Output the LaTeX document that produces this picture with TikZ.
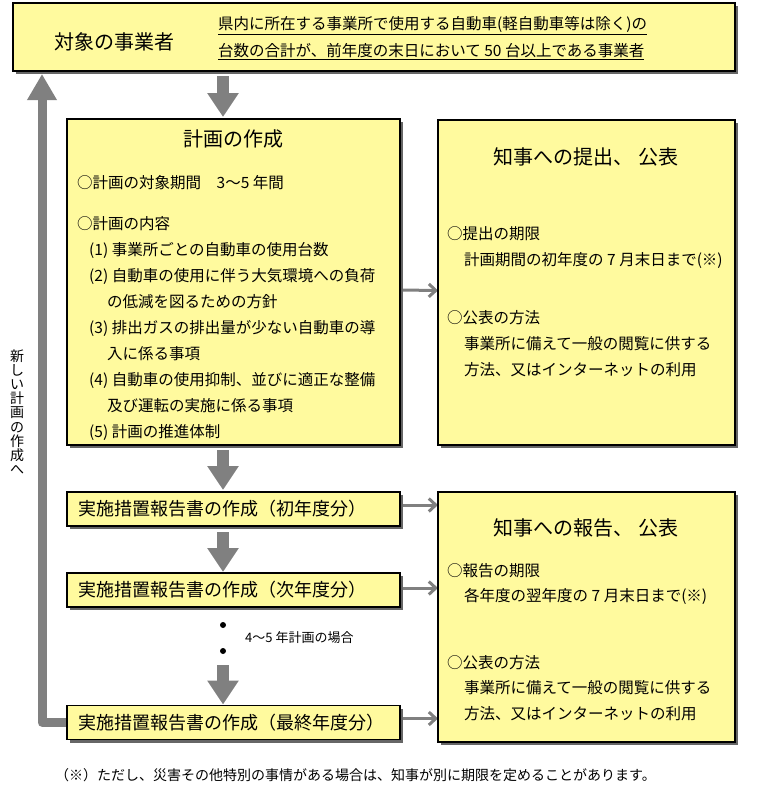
\documentclass[tikz,border=0pt]{standalone}
\usepackage{fontspec}
\setmainfont{Noto Sans CJK JP}
\usetikzlibrary{arrows.meta,shadows,backgrounds}
\definecolor{boxfill}{HTML}{FFFA9E}
\definecolor{arrowgray}{HTML}{808080}
\tikzset{
  box/.style={draw=black, line width=1.5pt, fill=boxfill, inner sep=0pt, outer sep=0pt,
    drop shadow={shadow xshift=3pt, shadow yshift=-3pt, fill=black!60, opacity=1}},
  repbox/.style={box, minimum height=34pt, text width=311pt, inner xsep=11pt, align=left,
    font=\fontsize{18}{22}\selectfont},
  title/.style={font=\fontsize{20}{24}\selectfont, inner sep=0pt},
  body/.style={font=\fontsize{15.5}{26}\selectfont, align=left, anchor=north west, inner sep=0pt},
  bigarrow/.style={draw=arrowgray, line width=12pt, -{Triangle[length=24pt, width=30pt]}},
  backarrow/.style={draw=arrowgray, line width=9pt, line join=round, line cap=round,
    -{Triangle[length=26pt, width=28pt]}},
  smallarrow/.style={draw=arrowgray, line width=3pt, -{Straight Barb[length=7pt, width=13pt]}}
}
\begin{document}
\begin{tikzpicture}[x=1pt, y=-1pt]
  \useasboundingbox (0,0) rectangle (767,800);
  \node[box, minimum width=722pt, minimum height=68pt] (top) at (374,37) {};
  \node[title] (toptitle) at (114,42) {対象の事業者};
  \node[body, font=\fontsize{15.5}{27}\selectfont] (topbody) at (218,16)
    {\underline{県内に所在する事業所で使用する自動車(軽自動車等は除く)の}\\
     \underline{台数の合計が、前年度の末日において 50 台以上である事業者}};

  \node[box, minimum width=333pt, minimum height=326pt] (plan) at (233.5,282) {};
  \node[title] (plantitle) at (233,139) {計画の作成};
  \node[body] (planbody) at (77,175)
    {○計画の対象期間　3～5 年間\\[15pt]
     ○計画の内容\\
     \hspace*{12pt}(1) 事業所ごとの自動車の使用台数\\
     \hspace*{12pt}(2) 自動車の使用に伴う大気環境への負荷\\
     \hspace*{30pt}の低減を図るための方針\\
     \hspace*{12pt}(3) 排出ガスの排出量が少ない自動車の導\\
     \hspace*{30pt}入に係る事項\\
     \hspace*{12pt}(4) 自動車の使用抑制、並びに適正な整備\\
     \hspace*{30pt}及び運転の実施に係る事項\\
     \hspace*{12pt}(5) 計画の推進体制};

  \node[box, minimum width=297pt, minimum height=325pt] (submit) at (586.5,282.5) {};
  \node[title] (submittitle) at (586,157) {知事への提出、 公表};
  \node[body] (submitbody) at (447,226)
    {○提出の期限\\
     \hspace*{17pt}計画期間の初年度の 7 月末日まで(※)\\[32pt]
     ○公表の方法\\
     \hspace*{17pt}事業所に備えて一般の閲覧に供する\\
     \hspace*{17pt}方法、又はインターネットの利用};

  \node[repbox] (rep1) at (233.5,509) {実施措置報告書の作成（初年度分）};
  \node[repbox] (rep2) at (233.5,590) {実施措置報告書の作成（次年度分）};
  \node[repbox] (rep3) at (233.5,722.5) {実施措置報告書の作成（最終年度分）};

  \node[box, minimum width=297pt, minimum height=250pt] (pub) at (586.5,617) {};
  \node[title] (pubtitle) at (586,528) {知事への報告、 公表};
  \node[body, font=\fontsize{15.5}{25.5}\selectfont] (pubbody) at (447,563)
    {○報告の期限\\
     \hspace*{17pt}各年度の翌年度の 7 月末日まで(※)\\[41pt]
     ○公表の方法\\
     \hspace*{17pt}事業所に備えて一般の閲覧に供する\\
     \hspace*{17pt}方法、又はインターネットの利用};

  \node[circle, fill=black, inner sep=0pt, minimum size=6pt] (dot1) at (223,625) {};
  \node[circle, fill=black, inner sep=0pt, minimum size=6pt] (dot2) at (223,651) {};
  \node[anchor=west, inner sep=0pt, font=\fontsize{13}{15}\selectfont] (case) at (245,638) {4～5 年計画の場合};

  \node[align=center, inner sep=0pt, font=\fontsize{14}{14.2}\selectfont] (newplan) at (17,412)
    {新\\し\\い\\計\\画\\の\\作\\成\\へ};
  \node[anchor=west, inner sep=0pt, font=\fontsize{14}{16}\selectfont] (note) at (55,775)
    {（※）ただし、災害その他特別の事情がある場合は、知事が別に期限を定めることがあります。};

  \coordinate (axis) at (223,0);
  \coordinate (ret) at (42,74);
  \begin{scope}[on background layer]
    \draw[bigarrow, shorten <=5pt, shorten >=2pt] (axis |- top.south) -- (axis |- plan.north);
    \draw[bigarrow, shorten <=5pt, shorten >=2pt] (axis |- plan.south) -- (axis |- rep1.north);
    \draw[bigarrow, shorten <=6pt, shorten >=1pt] (axis |- rep1.south) -- (axis |- rep2.north);
    \draw[bigarrow, shorten <=11pt, shorten >=1pt] (dot2) -- (axis |- rep3.north);
    \draw[backarrow] (rep3.west) -| (ret);
    \draw[smallarrow] ([yshift=-8pt]plan.east) -- ([yshift=-8pt]submit.west);
    \draw[smallarrow] ([yshift=4pt]rep1.east) -- ([yshift=4pt]rep1.east -| pub.west);
    \draw[smallarrow] ([yshift=2pt]rep2.east) -- ([yshift=2pt]rep2.east -| pub.west);
    \draw[smallarrow] ([yshift=4pt]rep3.east) -- ([yshift=4pt]rep3.east -| pub.west);
  \end{scope}
\end{tikzpicture}
\end{document}
